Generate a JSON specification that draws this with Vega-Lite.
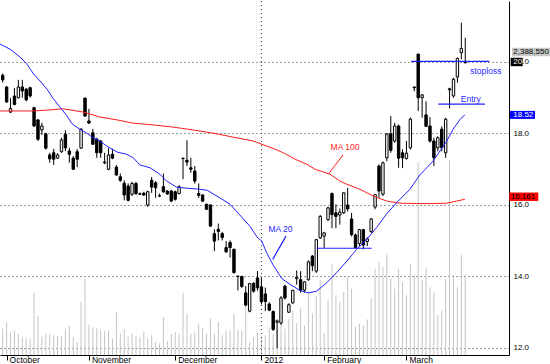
{
  "$schema": "https://vega.github.io/schema/vega-lite/v6.json",
  "width": 509,
  "height": 354,
  "padding": 0,
  "background": "white",
  "config": {
    "view": {"stroke": null},
    "text": {"font": "Liberation Sans"},
    "axis": {"labelFont": "Liberation Sans"},
    "scale": {"continuousPadding": 0}
  },
  "datasets": {
    "candles": [
      {"i":0,"o":19.63,"h":19.68,"l":19.42,"c":19.50,"v":0.78},
      {"i":1,"o":19.30,"h":19.33,"l":18.86,"c":18.88,"v":0.98},
      {"i":2,"o":18.60,"h":18.99,"l":18.57,"c":18.70,"v":0.68},
      {"i":3,"o":19.05,"h":19.27,"l":18.79,"c":18.81,"v":0.73},
      {"i":4,"o":19.00,"h":19.50,"l":18.98,"c":19.30,"v":0.63},
      {"i":5,"o":19.30,"h":19.50,"l":19.00,"c":19.19,"v":0.54},
      {"i":6,"o":19.24,"h":19.27,"l":18.90,"c":18.94,"v":0.49},
      {"i":7,"o":19.28,"h":19.31,"l":19.00,"c":19.05,"v":0.49},
      {"i":8,"o":18.72,"h":18.75,"l":18.18,"c":18.21,"v":1.85},
      {"i":9,"o":18.38,"h":18.40,"l":17.79,"c":17.84,"v":1.16},
      {"i":10,"o":18.10,"h":18.30,"l":17.96,"c":18.21,"v":0.54},
      {"i":11,"o":17.99,"h":18.02,"l":17.55,"c":17.59,"v":0.63},
      {"i":12,"o":17.40,"h":17.46,"l":17.18,"c":17.29,"v":0.61},
      {"i":13,"o":17.46,"h":17.57,"l":17.12,"c":17.28,"v":0.59},
      {"i":14,"o":17.31,"h":17.45,"l":17.29,"c":17.40,"v":0.56},
      {"i":15,"o":17.49,"h":17.88,"l":17.46,"c":17.82,"v":0.57},
      {"i":16,"o":17.98,"h":18.09,"l":17.51,"c":17.60,"v":0.78},
      {"i":17,"o":17.51,"h":17.60,"l":17.18,"c":17.42,"v":0.88},
      {"i":18,"o":17.31,"h":17.37,"l":16.98,"c":17.00,"v":0.54},
      {"i":19,"o":17.49,"h":17.57,"l":17.06,"c":17.28,"v":0.39},
      {"i":20,"o":17.59,"h":18.15,"l":17.57,"c":18.12,"v":1.58},
      {"i":21,"o":18.99,"h":19.00,"l":18.46,"c":18.49,"v":2.27},
      {"i":22,"o":18.35,"h":18.69,"l":18.27,"c":18.29,"v":0.90},
      {"i":23,"o":18.02,"h":18.13,"l":17.68,"c":17.70,"v":0.83},
      {"i":24,"o":17.84,"h":17.88,"l":17.32,"c":17.46,"v":0.80},
      {"i":25,"o":17.79,"h":17.82,"l":17.32,"c":17.46,"v":0.73},
      {"i":26,"o":17.20,"h":17.46,"l":17.14,"c":17.18,"v":0.71},
      {"i":27,"o":17.00,"h":17.59,"l":16.97,"c":17.40,"v":0.73},
      {"i":28,"o":17.42,"h":17.57,"l":17.28,"c":17.31,"v":0.49},
      {"i":29,"o":17.06,"h":17.12,"l":16.81,"c":16.84,"v":1.28},
      {"i":30,"o":16.79,"h":16.88,"l":16.65,"c":16.69,"v":0.63},
      {"i":31,"o":16.61,"h":16.69,"l":16.13,"c":16.28,"v":0.78},
      {"i":32,"o":16.53,"h":16.60,"l":16.10,"c":16.13,"v":0.54},
      {"i":33,"o":16.30,"h":16.65,"l":16.25,"c":16.60,"v":0.63},
      {"i":34,"o":16.60,"h":16.65,"l":16.28,"c":16.32,"v":0.56},
      {"i":35,"o":16.31,"h":16.35,"l":16.28,"c":16.30,"v":0.54},
      {"i":36,"o":16.33,"h":16.37,"l":16.25,"c":16.28,"v":0.70},
      {"i":37,"o":16.00,"h":16.40,"l":15.95,"c":16.37,"v":0.50},
      {"i":38,"o":16.69,"h":16.78,"l":16.34,"c":16.50,"v":0.60},
      {"i":39,"o":16.62,"h":16.67,"l":16.20,"c":16.48,"v":0.38},
      {"i":40,"o":16.26,"h":16.32,"l":16.22,"c":16.25,"v":0.35},
      {"i":41,"o":16.51,"h":16.88,"l":16.34,"c":16.37,"v":1.13},
      {"i":42,"o":16.39,"h":16.42,"l":16.28,"c":16.31,"v":0.41},
      {"i":43,"o":16.39,"h":16.42,"l":16.08,"c":16.11,"v":0.63},
      {"i":44,"o":16.37,"h":16.40,"l":16.12,"c":16.16,"v":0.68},
      {"i":45,"o":16.32,"h":16.55,"l":16.30,"c":16.51,"v":0.63},
      {"i":46,"o":17.31,"h":17.32,"l":16.72,"c":17.30,"v":1.85},
      {"i":47,"o":17.25,"h":17.81,"l":17.09,"c":17.20,"v":1.23},
      {"i":48,"o":17.04,"h":17.32,"l":16.90,"c":17.00,"v":0.63},
      {"i":49,"o":16.95,"h":17.09,"l":16.60,"c":16.67,"v":0.66},
      {"i":50,"o":16.32,"h":16.60,"l":16.20,"c":16.27,"v":0.93},
      {"i":51,"o":16.28,"h":16.30,"l":16.08,"c":16.11,"v":0.80},
      {"i":52,"o":16.02,"h":16.04,"l":15.86,"c":15.88,"v":0.63},
      {"i":53,"o":16.00,"h":16.02,"l":15.39,"c":15.41,"v":1.08},
      {"i":54,"o":15.20,"h":15.32,"l":14.71,"c":14.99,"v":0.63},
      {"i":55,"o":15.32,"h":15.48,"l":15.01,"c":15.26,"v":0.98},
      {"i":56,"o":15.20,"h":15.25,"l":15.01,"c":15.09,"v":0.59},
      {"i":57,"o":14.81,"h":14.99,"l":14.66,"c":14.69,"v":0.73},
      {"i":58,"o":14.95,"h":15.01,"l":14.53,"c":14.81,"v":0.73},
      {"i":59,"o":14.76,"h":14.78,"l":14.08,"c":14.11,"v":1.23},
      {"i":60,"o":14.01,"h":14.02,"l":13.61,"c":14.00,"v":0.75},
      {"i":61,"o":14.00,"h":14.02,"l":13.68,"c":13.72,"v":0.73},
      {"i":62,"o":13.54,"h":13.73,"l":13.17,"c":13.20,"v":1.56},
      {"i":63,"o":13.03,"h":13.82,"l":13.00,"c":13.80,"v":0.39},
      {"i":64,"o":13.81,"h":13.84,"l":13.55,"c":13.59,"v":0.54},
      {"i":65,"o":13.96,"h":14.15,"l":13.60,"c":13.68,"v":0.68},
      {"i":66,"o":13.71,"h":13.97,"l":13.22,"c":13.29,"v":0.54},
      {"i":67,"o":13.51,"h":13.69,"l":13.03,"c":13.30,"v":0.59},
      {"i":68,"o":13.23,"h":13.28,"l":13.03,"c":13.06,"v":0.83},
      {"i":69,"o":13.02,"h":13.05,"l":12.48,"c":12.52,"v":0.63},
      {"i":70,"o":12.72,"h":12.80,"l":12.00,"c":12.76,"v":0.77},
      {"i":71,"o":12.70,"h":13.45,"l":12.65,"c":13.40,"v":1.03},
      {"i":72,"o":13.73,"h":13.77,"l":13.35,"c":13.40,"v":0.78},
      {"i":73,"o":13.00,"h":13.25,"l":12.98,"c":13.21,"v":1.08},
      {"i":74,"o":13.26,"h":13.63,"l":13.24,"c":13.61,"v":1.33},
      {"i":75,"o":13.94,"h":14.17,"l":13.77,"c":13.98,"v":0.95},
      {"i":76,"o":13.91,"h":14.15,"l":13.55,"c":13.61,"v":1.38},
      {"i":77,"o":13.62,"h":13.87,"l":13.55,"c":13.85,"v":0.87},
      {"i":78,"o":13.91,"h":14.45,"l":13.88,"c":14.41,"v":1.90},
      {"i":79,"o":14.57,"h":14.60,"l":14.15,"c":14.30,"v":1.23},
      {"i":80,"o":14.15,"h":15.05,"l":14.10,"c":15.03,"v":1.76},
      {"i":81,"o":15.08,"h":15.72,"l":15.05,"c":15.68,"v":2.22},
      {"i":82,"o":15.13,"h":15.25,"l":14.80,"c":15.22,"v":0.65},
      {"i":83,"o":15.59,"h":15.95,"l":15.55,"c":15.92,"v":1.63},
      {"i":84,"o":16.32,"h":16.35,"l":15.35,"c":15.73,"v":2.69},
      {"i":85,"o":15.78,"h":16.02,"l":15.35,"c":15.68,"v":1.78},
      {"i":86,"o":15.72,"h":15.90,"l":15.45,"c":15.80,"v":1.58},
      {"i":87,"o":15.78,"h":16.36,"l":15.75,"c":16.34,"v":1.88},
      {"i":88,"o":16.00,"h":16.48,"l":15.82,"c":15.89,"v":2.32},
      {"i":89,"o":15.61,"h":15.78,"l":15.12,"c":15.17,"v":1.97},
      {"i":90,"o":15.16,"h":15.20,"l":14.78,"c":14.81,"v":0.83},
      {"i":91,"o":14.92,"h":15.33,"l":14.85,"c":15.31,"v":0.93},
      {"i":92,"o":15.31,"h":15.33,"l":14.76,"c":14.88,"v":0.88},
      {"i":93,"o":14.98,"h":15.10,"l":14.85,"c":15.05,"v":1.06},
      {"i":94,"o":15.26,"h":15.63,"l":15.22,"c":15.61,"v":1.68},
      {"i":95,"o":15.94,"h":16.30,"l":15.88,"c":16.29,"v":2.57},
      {"i":96,"o":17.09,"h":17.14,"l":16.20,"c":16.39,"v":2.77},
      {"i":97,"o":16.30,"h":17.22,"l":16.25,"c":17.18,"v":2.62},
      {"i":98,"o":17.32,"h":18.02,"l":17.22,"c":17.98,"v":2.99},
      {"i":99,"o":17.99,"h":18.49,"l":17.46,"c":17.53,"v":2.27},
      {"i":100,"o":17.79,"h":18.30,"l":17.74,"c":18.21,"v":1.97},
      {"i":101,"o":18.21,"h":18.25,"l":17.04,"c":17.31,"v":2.57},
      {"i":102,"o":17.46,"h":17.56,"l":17.03,"c":17.32,"v":2.17},
      {"i":103,"o":17.30,"h":17.79,"l":17.27,"c":17.45,"v":1.78},
      {"i":104,"o":17.60,"h":18.45,"l":17.55,"c":18.40,"v":2.69},
      {"i":105,"o":19.30,"h":19.31,"l":19.18,"c":19.28,"v":2.37},
      {"i":106,"o":20.22,"h":20.23,"l":18.63,"c":19.00,"v":5.74},
      {"i":107,"o":19.00,"h":19.10,"l":18.44,"c":19.08,"v":2.23},
      {"i":108,"o":18.52,"h":18.90,"l":18.18,"c":18.20,"v":2.60},
      {"i":109,"o":18.21,"h":18.46,"l":17.74,"c":17.79,"v":2.02},
      {"i":110,"o":17.79,"h":17.88,"l":17.09,"c":17.32,"v":1.88},
      {"i":111,"o":17.60,"h":17.92,"l":17.50,"c":17.88,"v":1.19},
      {"i":112,"o":18.12,"h":18.20,"l":17.50,"c":17.60,"v":1.34},
      {"i":113,"o":17.46,"h":18.44,"l":17.32,"c":18.40,"v":2.26},
      {"i":114,"o":19.25,"h":19.28,"l":18.70,"c":19.22,"v":5.80},
      {"i":115,"o":19.05,"h":19.56,"l":19.00,"c":19.52,"v":2.38},
      {"i":116,"o":19.58,"h":20.12,"l":19.42,"c":20.10,"v":2.02},
      {"i":117,"o":20.26,"h":21.10,"l":20.08,"c":20.38,"v":2.98},
      {"i":118,"o":20.00,"h":20.68,"l":19.96,"c":19.98,"v":2.39}
    ],
    "ma20": [
      {"i":-0.689,"v":20.50},{"i":1.86,"v":20.36},{"i":4.4,"v":20.14},{"i":6.2,"v":19.94},{"i":7.7,"v":19.69},
      {"i":9.5,"v":19.47},{"i":11.3,"v":19.24},{"i":12.8,"v":18.99},{"i":14.6,"v":18.74},{"i":16.4,"v":18.49},
      {"i":17.7,"v":18.27},{"i":19.5,"v":18.13},{"i":21,"v":18.04},{"i":22.8,"v":17.90},{"i":24.8,"v":17.79},
      {"i":26.5,"v":17.65},{"i":29.2,"v":17.48},{"i":31.6,"v":17.42},{"i":33.3,"v":17.32},{"i":35,"v":17.12},
      {"i":37.6,"v":17.04},{"i":40.1,"v":16.86},{"i":41.8,"v":16.67},{"i":44.4,"v":16.50},{"i":46.9,"v":16.47},
      {"i":50.3,"v":16.44},{"i":52.2,"v":16.41},{"i":55.4,"v":16.20},{"i":58,"v":16.02},{"i":60.5,"v":15.72},
      {"i":63.1,"v":15.40},{"i":64.9,"v":15.10},{"i":66.1,"v":14.99},{"i":67.3,"v":14.67},{"i":69,"v":14.32},
      {"i":71.2,"v":13.94},{"i":73.3,"v":13.78},{"i":75.8,"v":13.61},{"i":78,"v":13.54},{"i":80.1,"v":13.59},
      {"i":82.7,"v":13.83},{"i":85.2,"v":14.11},{"i":87.8,"v":14.43},{"i":90.3,"v":14.76},{"i":92.9,"v":15.04},
      {"i":95.4,"v":15.37},{"i":98,"v":15.76},{"i":100.9,"v":16.11},{"i":103.9,"v":16.44},{"i":106.4,"v":16.84},
      {"i":108.6,"v":17.09},{"i":109.8,"v":17.23},{"i":113.3,"v":17.79},{"i":114.9,"v":18.12},{"i":116.7,"v":18.40},
      {"i":117.9,"v":18.52}
    ],
    "ma100": [
      {"i":-0.689,"v":18.63},{"i":7.7,"v":18.63},{"i":12.1,"v":18.66},{"i":15.4,"v":18.69},{"i":17.2,"v":18.66},
      {"i":20.5,"v":18.60},{"i":24.8,"v":18.46},{"i":29.2,"v":18.38},{"i":33.2,"v":18.29},{"i":38.3,"v":18.24},
      {"i":43.4,"v":18.18},{"i":48.5,"v":18.10},{"i":53.7,"v":18.01},{"i":58.7,"v":17.90},{"i":63.9,"v":17.79},
      {"i":69.5,"v":17.56},{"i":71.6,"v":17.46},{"i":74.6,"v":17.28},{"i":77.6,"v":17.14},{"i":79.7,"v":17.00},
      {"i":83.5,"v":16.86},{"i":86,"v":16.67},{"i":87.8,"v":16.58},{"i":91.1,"v":16.44},{"i":94.5,"v":16.25},
      {"i":98,"v":16.11},{"i":101.4,"v":16.05},{"i":105.6,"v":16.04},{"i":109.8,"v":16.04},{"i":113.3,"v":16.05},
      {"i":115.8,"v":16.11},{"i":117.9,"v":16.16}
    ],
    "breaks": [{"i":66}],
    "blines": [
      {"i":104.16,"i2":124.13,"p":20.02,"p2":20.02},
      {"i":111.12,"i2":123.03,"p":18.82,"p2":18.82},
      {"i":80.1,"i2":94.13,"p":14.79,"p2":14.79},
      {"i":72.27,"i2":68.88,"p":15.13,"p2":14.48}
    ],
    "rlines": [
      {"i":86.81,"i2":83.06,"p":17.40,"p2":16.86}
    ],
    "bnotes": [
      {"t":"MA 20","i":70.87,"p":15.32},
      {"t":"stoploss","i":123.24,"p":19.76},
      {"t":"Entry","i":119.41,"p":18.96}
    ],
    "rnotes": [
      {"t":"MA 100","i":87.32,"p":17.61}
    ],
    "tags": [
      {"t":"2,388,550","p":20.28},
      {"t":"20","p":20.0},
      {"t":".0","p":20.0},
      {"t":"18.52","p":18.52},
      {"t":"16.161","p":16.161}
    ]
  },
  "layer": [
    {
      "data": {"name": "candles"},
      "mark": {"type": "rule", "color": "#c4c4c4", "strokeWidth": 1},
      "encoding": {
        "x": {
          "field": "i", "type": "quantitative",
          "scale": {"domain": [-0.689, 129.16], "nice": false, "zero": false, "padding": 0},
          "axis": {
            "values": [1, 22, 44, 66, 82, 103],
            "labelExpr": "datum.value == 1 ? 'October' : datum.value == 22 ? 'November' : datum.value == 44 ? 'December' : datum.value == 66 ? '2012' : datum.value == 82 ? 'February' : 'March'",
            "title": null, "grid": false,
            "domainColor": "black", "tickColor": "black", "tickSize": 5,
            "labelAlign": "left", "labelBaseline": "top", "labelPadding": -5, "labelOffset": 2.5,
            "labelFontSize": 8.5, "labelColor": "black", "labelFlush": false, "labelOverlap": false
          }
        },
        "y": {"field": "v", "type": "quantitative", "scale": {"domain": [0, 10.536], "nice": false, "zero": false}, "axis": null},
        "y2": {"datum": 0}
      }
    },
    {
      "layer": [
        {
          "data": {"name": "breaks"},
          "mark": {"type": "rule", "color": "#333333", "strokeDash": [1, 3], "strokeWidth": 1},
          "encoding": {
            "x": {"field": "i", "type": "quantitative", "scale": {"domain": [-0.689, 129.16], "nice": false, "zero": false, "padding": 0}}
          }
        },
        {
          "data": {"name": "candles"},
          "mark": {"type": "rule", "color": "black", "strokeWidth": 1},
          "encoding": {
            "x": {"field": "i", "type": "quantitative", "scale": {"domain": [-0.689, 129.16], "nice": false, "zero": false, "padding": 0}},
            "y": {
              "field": "l", "type": "quantitative",
              "scale": {"domain": [11.804, 21.706], "nice": false, "zero": false, "padding": 0},
              "axis": {
                "orient": "right", "values": [12, 14, 16, 18, 20], "format": ".1f", "title": null,
                "labelExpr": "datum.value == 20 ? '' : format(datum.value, '.1f')",
                "grid": true, "gridDash": [1, 3], "gridColor": "#333333", "gridWidth": 1,
                "domainColor": "black", "ticks": false, "tickSize": 0, "labelPadding": 4,
                "labelFontSize": 8, "labelColor": "black", "labelFlush": false
              }
            },
            "y2": {"field": "h"}
          }
        },
        {
          "data": {"name": "candles"},
          "mark": {"type": "bar", "size": 2.4, "stroke": "black", "strokeWidth": 1},
          "encoding": {
            "x": {"field": "i", "type": "quantitative", "scale": {"domain": [-0.689, 129.16], "nice": false, "zero": false, "padding": 0}},
            "y": {"field": "o", "type": "quantitative", "scale": {"domain": [11.804, 21.706], "nice": false, "zero": false, "padding": 0}},
            "y2": {"field": "c"},
            "fill": {"condition": {"test": "datum.c < datum.o", "value": "black"}, "value": "white"}
          }
        },
        {
          "data": {"name": "ma100"},
          "mark": {"type": "line", "color": "#ff1e1e", "strokeWidth": 1, "clip": true},
          "encoding": {
            "x": {"field": "i", "type": "quantitative", "scale": {"domain": [-0.689, 129.16], "nice": false, "zero": false, "padding": 0}},
            "y": {"field": "v", "type": "quantitative", "scale": {"domain": [11.804, 21.706], "nice": false, "zero": false, "padding": 0}}
          }
        },
        {
          "data": {"name": "ma20"},
          "mark": {"type": "line", "color": "#1f1fff", "strokeWidth": 1, "clip": true},
          "encoding": {
            "x": {"field": "i", "type": "quantitative", "scale": {"domain": [-0.689, 129.16], "nice": false, "zero": false, "padding": 0}},
            "y": {"field": "v", "type": "quantitative", "scale": {"domain": [11.804, 21.706], "nice": false, "zero": false, "padding": 0}}
          }
        },
        {
          "data": {"name": "blines"},
          "mark": {"type": "rule", "color": "#1f1fff", "strokeWidth": 1.2},
          "encoding": {
            "x": {"field": "i", "type": "quantitative", "scale": {"domain": [-0.689, 129.16], "nice": false, "zero": false, "padding": 0}},
            "x2": {"field": "i2"},
            "y": {"field": "p", "type": "quantitative", "scale": {"domain": [11.804, 21.706], "nice": false, "zero": false, "padding": 0}},
            "y2": {"field": "p2"}
          }
        },
        {
          "data": {"name": "rlines"},
          "mark": {"type": "rule", "color": "#ff1e1e", "strokeWidth": 1},
          "encoding": {
            "x": {"field": "i", "type": "quantitative", "scale": {"domain": [-0.689, 129.16], "nice": false, "zero": false, "padding": 0}},
            "x2": {"field": "i2"},
            "y": {"field": "p", "type": "quantitative", "scale": {"domain": [11.804, 21.706], "nice": false, "zero": false, "padding": 0}},
            "y2": {"field": "p2"}
          }
        },
        {
          "data": {"name": "bnotes"},
          "mark": {"type": "text", "color": "#1f1fff", "fontSize": 8.5, "align": "center", "baseline": "middle"},
          "encoding": {
            "x": {"field": "i", "type": "quantitative", "scale": {"domain": [-0.689, 129.16], "nice": false, "zero": false, "padding": 0}},
            "y": {"field": "p", "type": "quantitative", "scale": {"domain": [11.804, 21.706], "nice": false, "zero": false, "padding": 0}},
            "text": {"field": "t"}
          }
        },
        {
          "data": {"name": "rnotes"},
          "mark": {"type": "text", "color": "#ff1e1e", "fontSize": 8.5, "align": "center", "baseline": "middle"},
          "encoding": {
            "x": {"field": "i", "type": "quantitative", "scale": {"domain": [-0.689, 129.16], "nice": false, "zero": false, "padding": 0}},
            "y": {"field": "p", "type": "quantitative", "scale": {"domain": [11.804, 21.706], "nice": false, "zero": false, "padding": 0}},
            "text": {"field": "t"}
          }
        },
        {
          "data": {"name": "tags"},
          "transform": [{"filter": "datum.t == '2,388,550'"}],
          "mark": {"type": "point", "shape": "M-1,-0.2184H1V0.2184H-1Z", "size": 1444, "filled": true, "color": "#c8c8c8", "opacity": 1},
          "encoding": {
            "x": {"datum": 134.77, "type": "quantitative", "scale": {"domain": [-0.689, 129.16], "nice": false, "zero": false, "padding": 0}},
            "y": {"field": "p", "type": "quantitative", "scale": {"domain": [11.804, 21.706], "nice": false, "zero": false, "padding": 0}}
          }
        },
        {
          "data": {"name": "tags"},
          "transform": [{"filter": "datum.t == '20'"}],
          "mark": {"type": "point", "shape": "M-1,-0.7H1V0.7H-1Z", "size": 144, "filled": true, "color": "black", "opacity": 1},
          "encoding": {
            "x": {"datum": 131.12, "type": "quantitative", "scale": {"domain": [-0.689, 129.16], "nice": false, "zero": false, "padding": 0}},
            "y": {"field": "p", "type": "quantitative", "scale": {"domain": [11.804, 21.706], "nice": false, "zero": false, "padding": 0}}
          }
        },
        {
          "data": {"name": "tags"},
          "transform": [{"filter": "datum.t == '18.52'"}],
          "mark": {"type": "point", "shape": "M-1,-0.32H1V0.32H-1Z", "size": 625, "filled": true, "color": "#0000ff", "opacity": 1},
          "encoding": {
            "x": {"datum": 132.6, "type": "quantitative", "scale": {"domain": [-0.689, 129.16], "nice": false, "zero": false, "padding": 0}},
            "y": {"field": "p", "type": "quantitative", "scale": {"domain": [11.804, 21.706], "nice": false, "zero": false, "padding": 0}}
          }
        },
        {
          "data": {"name": "tags"},
          "transform": [{"filter": "datum.t == '16.161'"}],
          "mark": {"type": "point", "shape": "M-1,-0.29H1V0.29H-1Z", "size": 841, "filled": true, "color": "#ff0000", "opacity": 1, "yOffset": -2.5},
          "encoding": {
            "x": {"datum": 132.93, "type": "quantitative", "scale": {"domain": [-0.689, 129.16], "nice": false, "zero": false, "padding": 0}},
            "y": {"field": "p", "type": "quantitative", "scale": {"domain": [11.804, 21.706], "nice": false, "zero": false, "padding": 0}}
          }
        },
        {
          "data": {"name": "tags"},
          "transform": [{"filter": "datum.t == '2,388,550' || datum.t == '20' || datum.t == '18.52'"}],
          "mark": {"type": "text", "fontSize": 8, "align": "left", "baseline": "middle"},
          "encoding": {
            "x": {"datum": 130.25, "type": "quantitative", "scale": {"domain": [-0.689, 129.16], "nice": false, "zero": false, "padding": 0}},
            "y": {"field": "p", "type": "quantitative", "scale": {"domain": [11.804, 21.706], "nice": false, "zero": false, "padding": 0}},
            "text": {"field": "t"},
            "color": {"condition": {"test": "datum.t == '20' || datum.t == '18.52'", "value": "white"}, "value": "black"}
          }
        },
        {
          "data": {"name": "tags"},
          "transform": [{"filter": "datum.t == '.0'"}],
          "mark": {"type": "text", "fontSize": 8, "align": "left", "baseline": "middle", "color": "black"},
          "encoding": {
            "x": {"datum": 132.55, "type": "quantitative", "scale": {"domain": [-0.689, 129.16], "nice": false, "zero": false, "padding": 0}},
            "y": {"field": "p", "type": "quantitative", "scale": {"domain": [11.804, 21.706], "nice": false, "zero": false, "padding": 0}},
            "text": {"field": "t"}
          }
        },
        {
          "data": {"name": "tags"},
          "transform": [{"filter": "datum.t == '16.161'"}],
          "mark": {"type": "text", "fontSize": 8, "align": "left", "baseline": "middle", "color": "black", "yOffset": -2.5},
          "encoding": {
            "x": {"datum": 129.6, "type": "quantitative", "scale": {"domain": [-0.689, 129.16], "nice": false, "zero": false, "padding": 0}},
            "y": {"field": "p", "type": "quantitative", "scale": {"domain": [11.804, 21.706], "nice": false, "zero": false, "padding": 0}},
            "text": {"field": "t"}
          }
        }
      ]
    }
  ],
  "resolve": {"scale": {"y": "independent"}}
}
